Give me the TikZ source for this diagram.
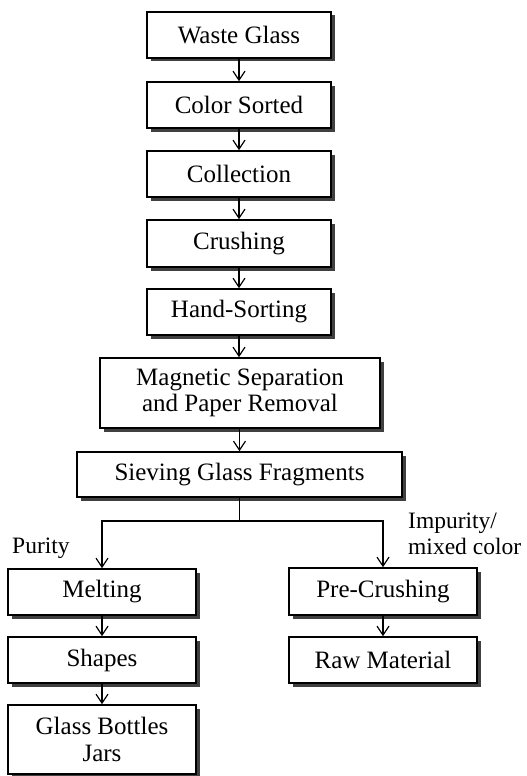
\documentclass[tikz,border=0pt]{standalone}
\usepackage{fontspec}
\setmainfont{Liberation Serif}
\usetikzlibrary{arrows.meta,shadows}
\begin{document}
\begin{tikzpicture}[x=1pt,y=-1pt,
  every node/.style={font=\fontsize{25}{26.5}\selectfont},
  pbox/.style={draw=black, line width=1.6pt, fill=white, align=center, inner sep=0pt,
    drop shadow={shadow xshift=3.5pt, shadow yshift=-3.5pt, fill=black!75, opacity=1}},
  arr/.style={line width=1.2pt, -{Straight Barb[length=9pt,width=12pt,line width=1.2pt]}},
  lbl/.style={inner sep=0pt, align=left, font=\fontsize{23.5}{25.5}\selectfont}]
\useasboundingbox (0,0) rectangle (527,776);
\node[pbox, minimum width=184pt, minimum height=46pt] (waste) at (239,35) {Waste Glass};
\node[pbox, minimum width=184pt, minimum height=46pt] (color) at (239,105) {Color Sorted};
\node[pbox, minimum width=184pt, minimum height=46pt] (coll) at (239,174) {Collection};
\node[pbox, minimum width=184pt, minimum height=47pt] (crush) at (239,243.5) {Crushing};
\node[pbox, minimum width=184pt, minimum height=46pt] (hand) at (239,312) {Hand-Sorting};
\node[pbox, minimum width=280pt, minimum height=70pt] (magn) at (240,393) {Magnetic Separation\\and Paper Removal};
\node[pbox, minimum width=325pt, minimum height=45pt] (siev) at (239.5,474.5) {Sieving Glass Fragments};
\node[pbox, minimum width=188pt, minimum height=46pt] (melt) at (102,592) {Melting};
\node[pbox, minimum width=188pt, minimum height=46pt] (shape) at (102,660) {Shapes};
\node[pbox, minimum width=188pt, minimum height=69pt] (bott) at (102,739.5) {Glass Bottles\\Jars};
\node[pbox, minimum width=188pt, minimum height=47pt] (pre) at (383,591.5) {Pre-Crushing};
\node[pbox, minimum width=188pt, minimum height=46pt] (raw) at (383,660) {Raw Material};
\coordinate (split) at (239.5,521);
\node[lbl, anchor=base west] (pur) at (12,553) {Purity};
\node[lbl, anchor=base west] (imp) at (408,554) {Impurity/\\mixed color};
\draw[arr] (waste) -- (color);
\draw[arr] (color) -- (coll);
\draw[arr] (coll) -- (crush);
\draw[arr] (crush) -- (hand);
\draw[arr] (hand.south) -- (hand.south |- magn.north);
\draw[arr] (magn.south -| siev.north) -- (siev.north);
\draw[line width=1.2pt] (siev.south) -- (split);
\draw[arr] (split) -| (melt.north);
\draw[arr] (split) -| (pre.north);
\draw[arr] (melt) -- (shape);
\draw[arr] (shape) -- (bott);
\draw[arr] (pre) -- (raw);
\end{tikzpicture}
\end{document}
